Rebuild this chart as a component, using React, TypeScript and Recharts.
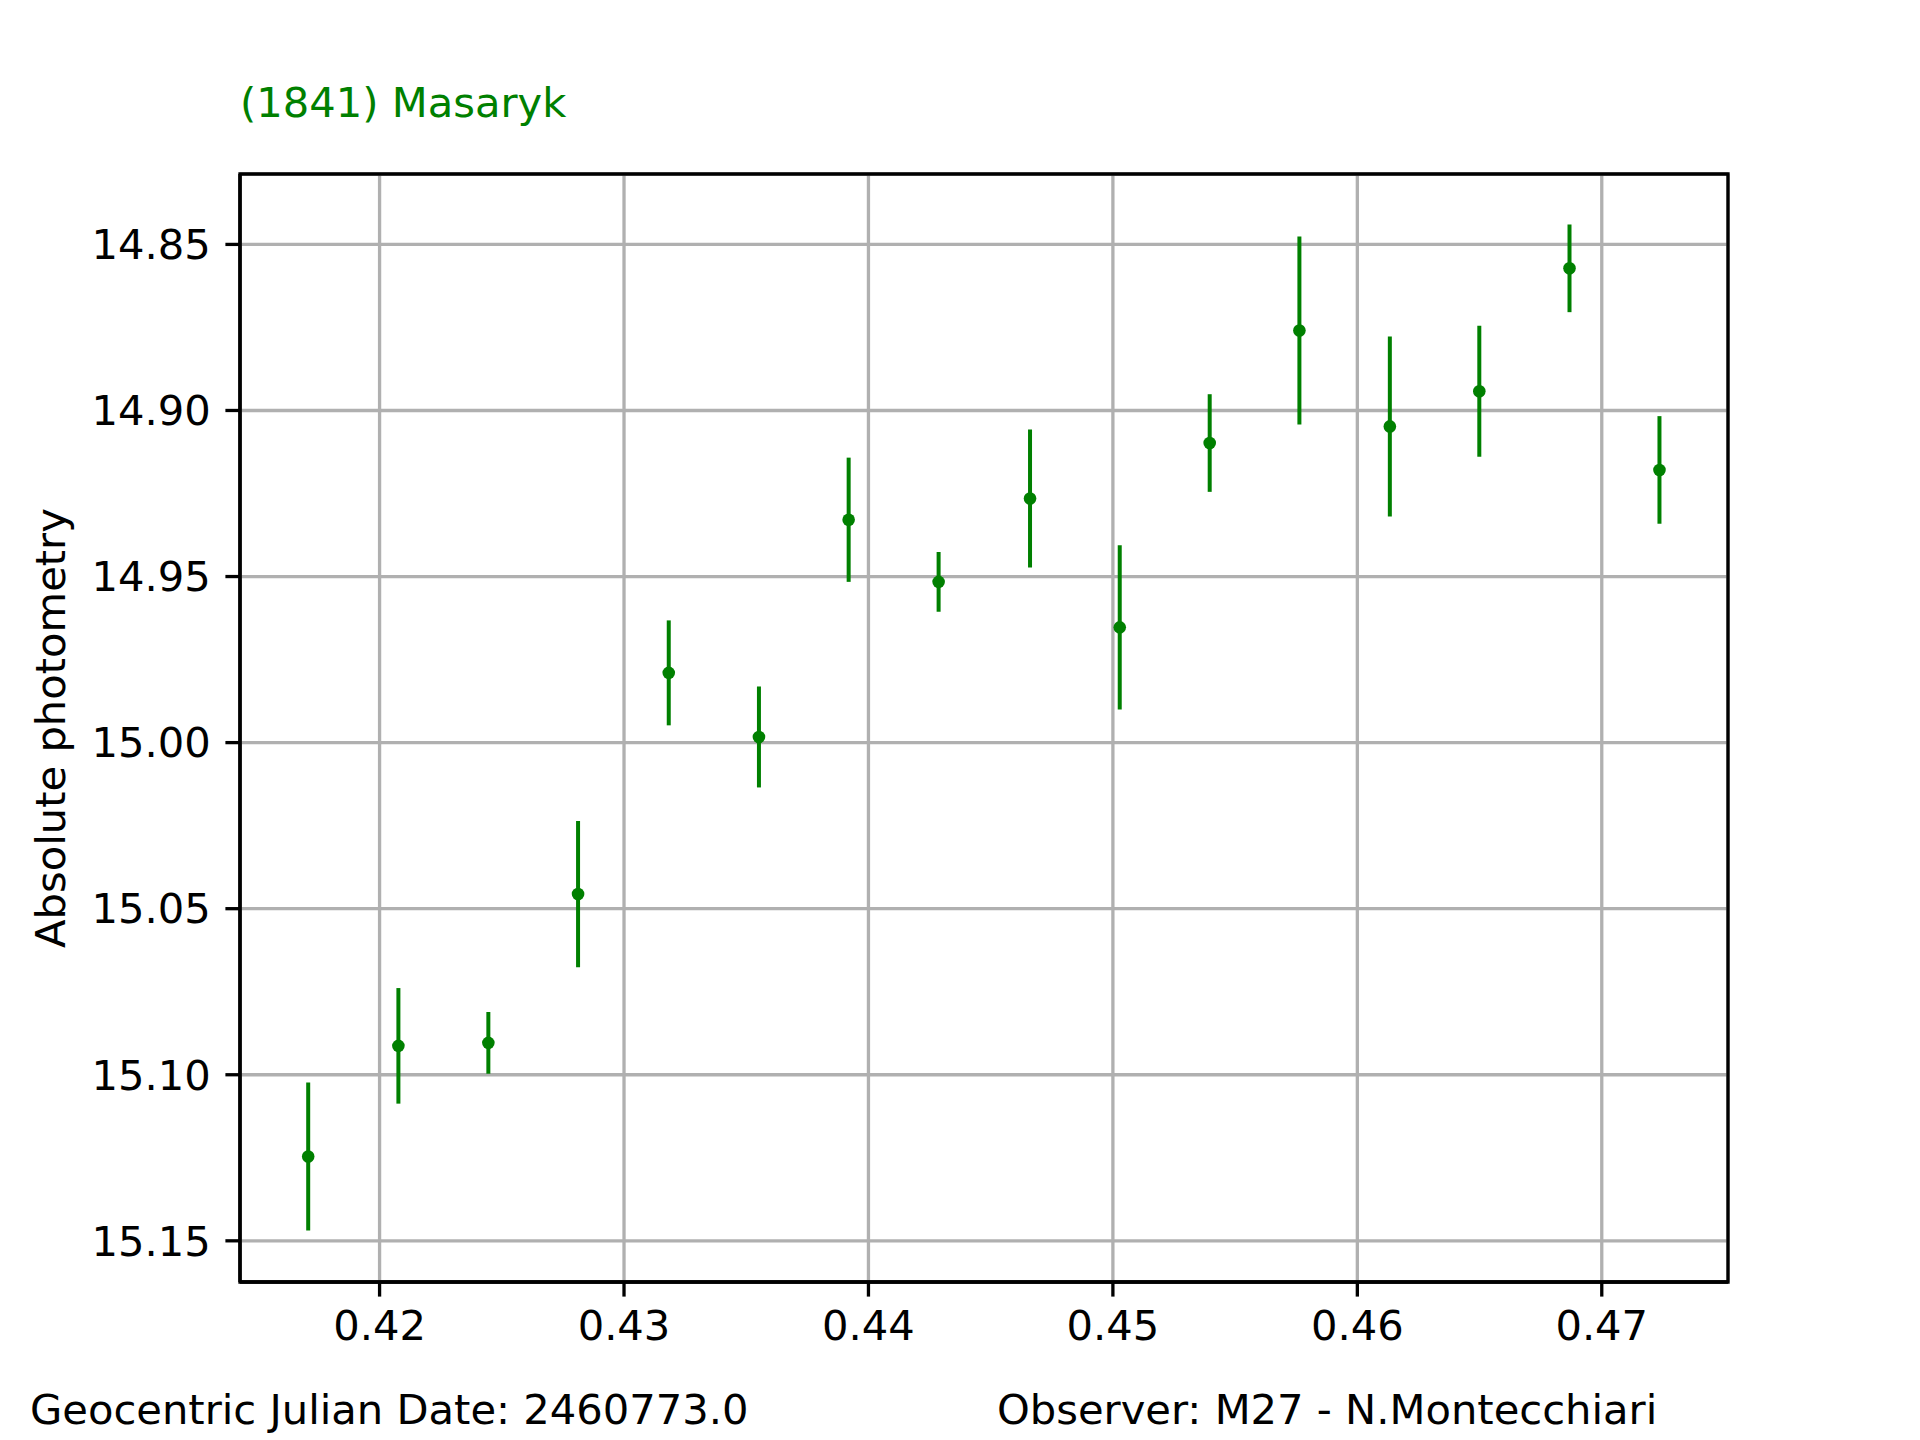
import React from 'react';
import { ScatterChart, Scatter, XAxis, YAxis, CartesianGrid, ErrorBar, ReferenceArea } from 'recharts';

const jdFraction = [0.41708, 0.42077, 0.42445, 0.42812, 0.43183, 0.43552, 0.43919, 0.44287, 0.44661, 0.45028, 0.45396, 0.45763, 0.46133, 0.46499, 0.46868, 0.47236];
const magnitude = [15.1246, 15.0913, 15.0904, 15.0456, 14.979, 14.9983, 14.9329, 14.9516, 14.9265, 14.9653, 14.9098, 14.8759, 14.9048, 14.8942, 14.8572, 14.9179];
const magError = [0.0223, 0.0174, 0.0093, 0.022, 0.0158, 0.0152, 0.0187, 0.009, 0.0208, 0.0247, 0.0147, 0.0283, 0.0271, 0.0197, 0.0132, 0.0162];

const xTicks = [0.42, 0.43, 0.44, 0.45, 0.46, 0.47];
const yTicks = [14.85, 14.9, 14.95, 15.0, 15.05, 15.1, 15.15];
const xDomain: [number, number] = [0.41429, 0.475164];
const yDomain: [number, number] = [14.8288, 15.1624];

const titleText = '(1841) Masaryk';
const yLabelText = 'Absolute photometry';
const footerLeft = 'Geocentric Julian Date: 2460773.0';
const footerRight = 'Observer: M27 - N.Montecchiari';

const data = jdFraction.map((x, i) => ({ x, y: magnitude[i], err: magError[i] }));

const FONT = 'DejaVu Sans, sans-serif';
const FS = 41.67;
const GREEN = '#008000';

const Dot = (props: any) => <circle cx={props.cx} cy={props.cy} r={6.3} fill={GREEN} />;

export default function App() {
  const tickStyle = { fill: '#000', fontFamily: FONT, fontSize: FS };
  return (
    <div style={{ position: 'relative', width: 1920, height: 1440, background: '#fff' }}>
      <style>{`body{margin:0;}`}</style>
      <ScatterChart width={1920} height={1440} margin={{ top: 174, right: 192, bottom: 58, left: 40 }}>
        <CartesianGrid stroke="#b0b0b0" strokeWidth={3.3} />
        <XAxis
          type="number"
          dataKey="x"
          domain={xDomain}
          ticks={xTicks}
          allowDataOverflow
          height={100}
          tickFormatter={(v: number) => v.toFixed(2)}
          tick={tickStyle}
          tickSize={14.6}
          tickMargin={14}
          axisLine={{ stroke: '#000', strokeWidth: 3.3 }}
          tickLine={{ stroke: '#000', strokeWidth: 3.3 }}
        />
        <YAxis
          type="number"
          dataKey="y"
          domain={yDomain}
          ticks={yTicks}
          reversed
          allowDataOverflow
          width={200}
          tickFormatter={(v: number) => v.toFixed(2)}
          tick={tickStyle}
          tickSize={14.6}
          tickMargin={14.6}
          axisLine={{ stroke: '#000', strokeWidth: 3.3 }}
          tickLine={{ stroke: '#000', strokeWidth: 3.3 }}
        />
        <Scatter data={data} fill={GREEN} shape={Dot} isAnimationActive={false}>
          <ErrorBar dataKey="err" direction="y" width={0} stroke={GREEN} strokeWidth={4} />
        </Scatter>
        <ReferenceArea
          x1={xDomain[0]}
          x2={xDomain[1]}
          y1={yDomain[0]}
          y2={yDomain[1]}
          fill="none"
          fillOpacity={0}
          stroke="#000"
          strokeWidth={3.3}
          ifOverflow="visible"
        />
      </ScatterChart>
      <svg width={1920} height={1440} style={{ position: 'absolute', left: 0, top: 0, pointerEvents: 'none' }}>
        <text x={240} y={117} fill={GREEN} fontFamily={FONT} fontSize={FS}>{titleText}</text>
        <text
          x={64.7}
          y={728}
          transform="rotate(-90, 64.7, 728)"
          textAnchor="middle"
          fill="#000"
          fontFamily={FONT}
          fontSize={FS}
        >
          {yLabelText}
        </text>
        <text x={30} y={1424} fill="#000" fontFamily={FONT} fontSize={FS}>{footerLeft}</text>
        <text x={997} y={1424} fill="#000" fontFamily={FONT} fontSize={FS}>{footerRight}</text>
      </svg>
    </div>
  );
}
